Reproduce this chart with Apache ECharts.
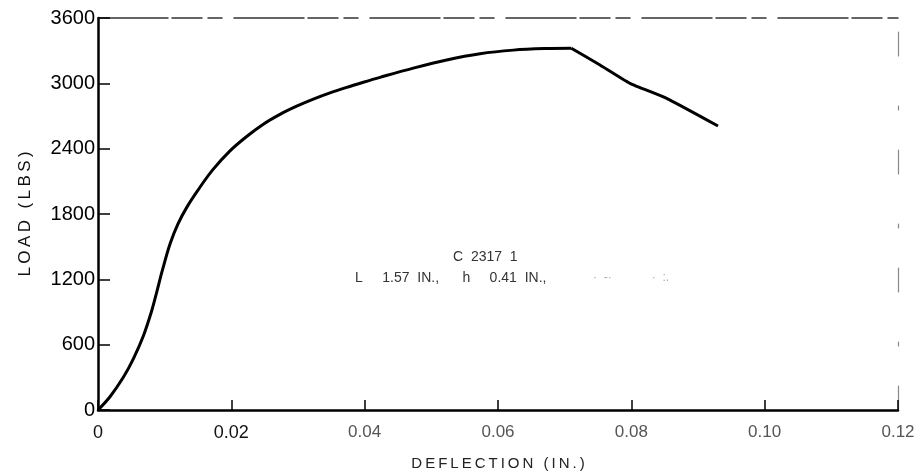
<!DOCTYPE html>
<html>
<head>
<meta charset="utf-8">
<script src="https://cdn.jsdelivr.net/npm/echarts@6/dist/echarts.min.js"></script>
<style>
  html, body { margin: 0; padding: 0; background: #fff; }
  #chart { width: 921px; height: 476px; }
</style>
</head>
<body>
<div id="chart"></div>
<script>
// Load-deflection record for specimen C 2317 1
const deflection = [0, 0.0018, 0.0038, 0.0053, 0.0068, 0.0080, 0.0088, 0.0096, 0.0108, 0.0120,
  0.0134, 0.0150, 0.0172, 0.0198, 0.0223, 0.0248, 0.0273, 0.0298, 0.0323, 0.0348,
  0.0373, 0.0398, 0.0423, 0.0473, 0.0523, 0.0573, 0.0623, 0.0670, 0.0710,
  0.0753, 0.0798, 0.0853, 0.0930];
const load = [0, 122, 300, 470, 680, 900, 1080, 1270, 1525, 1710,
  1870, 2020, 2205, 2380, 2512, 2625, 2715, 2790, 2855, 2912,
  2963, 3010, 3055, 3140, 3215, 3272, 3305, 3319, 3322,
  3168, 3000, 2862, 2608];
const xTicks = ['0', '0.02', '0.04', '0.06', '0.08', '0.10', '0.12'];
const yTicks = ['0', '600', '1200', '1800', '2400', '3000', '3600'];

// Split the record at the maximum load: smooth loading branch, unloading branch after failure
const points = deflection.map((d, i) => [d, load[i]]);
const peak = load.indexOf(Math.max(...load));
const loading = points.slice(0, peak + 1);
const unloading = points.slice(peak);

const chart = echarts.init(document.getElementById('chart'));
const font = 'Liberation Sans, Arial, sans-serif';
const spaced = (s) => s.split('').join('\u2009');

chart.setOption({
  animation: false,
  backgroundColor: '#fff',
  grid: { left: 98, right: 23, top: 18, bottom: 66, containLabel: false },
  xAxis: [{
    type: 'value', min: 0, max: 0.12, interval: 0.02,
    name: spaced('DEFLECTION (IN.)'), nameLocation: 'middle', nameGap: 46,
    nameTextStyle: { fontFamily: font, fontSize: 15, color: '#222' },
    axisLine: { onZero: false, lineStyle: { color: '#000', width: 2.5 } },
    axisTick: { inside: true, length: 10, lineStyle: { color: '#000', width: 1.5 } },
    axisLabel: {
      margin: 14, fontFamily: font, fontSize: 18, color: '#111',
      formatter: (v) => {
        const i = Math.round(v / 0.02);
        return i < 2 ? xTicks[i] : '{f|' + xTicks[i] + '}';
      },
      rich: { f: { fontFamily: font, fontSize: 17, color: '#555' } }
    },
    splitLine: { show: false }
  }, {
    type: 'value', min: 0, max: 0.12, position: 'top',
    axisLine: { onZero: false, lineStyle: { color: '#333', width: 1.5, type: [70, 4, 30, 6, 14, 12] } },
    axisTick: { show: false }, axisLabel: { show: false }, splitLine: { show: false }
  }],
  yAxis: [{
    type: 'value', min: 0, max: 3600, interval: 600,
    name: spaced('LOAD (LBS)'), nameLocation: 'middle', nameGap: 64, nameRotate: 90,
    nameTextStyle: { fontFamily: font, fontSize: 17, color: '#111' },
    axisLine: { onZero: false, lineStyle: { color: '#000', width: 2.5 } },
    axisTick: { inside: true, length: 12, lineStyle: { color: '#000', width: 1.5 } },
    axisLabel: {
      margin: 3, fontFamily: font, fontSize: 20, color: '#000',
      formatter: (v) => yTicks[Math.round(v / 600)]
    },
    splitLine: { show: false }
  }, {
    type: 'value', min: 0, max: 3600, position: 'right',
    axisLine: { onZero: false, lineStyle: { color: '#888', width: 1.2, type: [24, 40, 4, 50] } },
    axisTick: { show: false }, axisLabel: { show: false }, splitLine: { show: false }
  }],
  series: [{
    type: 'line',
    data: loading,
    smooth: 0.35,
    showSymbol: false,
    lineStyle: { color: '#000', width: 3 }
  }, {
    type: 'line',
    data: unloading,
    smooth: 0.15,
    showSymbol: false,
    lineStyle: { color: '#000', width: 3 }
  }],
  graphic: [{
    type: 'text', left: 453, top: 250,
    style: { text: 'C  2317  1', font: '14px ' + font, fill: '#333' }
  }, {
    type: 'text', left: 355, top: 271,
    style: {
      text: '{d|L     1.57  IN.,      h     0.41  IN.,}{f|              ·  -·            ·  :.}',
      rich: {
        d: { font: '14px ' + font, fill: '#333' },
        f: { font: '12px ' + font, fill: '#aaa' }
      }
    }
  }]
});
</script>
</body>
</html>
